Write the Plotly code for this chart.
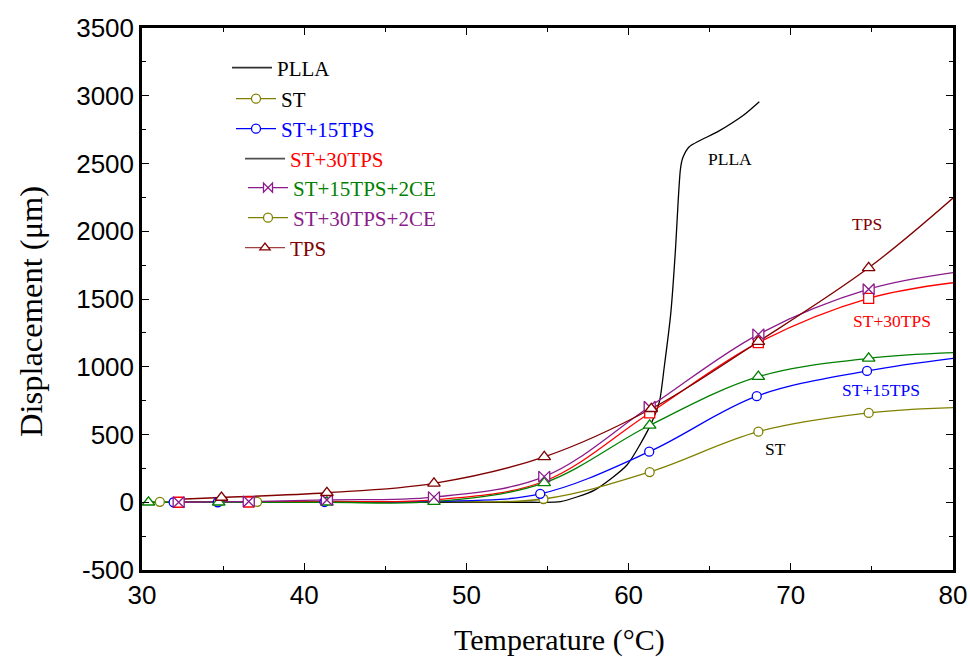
import plotly.graph_objects as go

# ---------------- data ----------------
# PLLA (no markers)
plla_temp = [30.4, 40.0, 50.0, 54.0, 55.8, 57.9, 59.9, 61.3, 61.9, 62.2, 62.6, 62.9,
             63.06, 63.19, 63.33, 63.74, 65.5, 67.1, 68.06]
plla_disp = [0, 0, 0, 0, 4, 90, 275, 558, 742, 1000, 1394, 1886,
             2231, 2452, 2538, 2624, 2735, 2858, 2956]

# ST
st_temp = [31.1, 37.1, 48.0, 54.75, 61.3, 68.0, 74.8, 80.0]
st_disp = [3, 3, 5, 24, 223, 521, 659, 698]
st_marks = [31.1, 37.1, 54.75, 61.3, 68.0, 74.8]

# ST+15TPS
st15_temp = [31.95, 34.67, 41.25, 48.0, 54.55, 61.27, 67.9, 74.7, 80.0]
st15_disp = [0, 0, 2, 6, 62, 373, 783, 969, 1062]
st15_marks = [31.95, 34.67, 41.25, 54.55, 61.27, 67.9, 74.7]

# ST+30TPS
st30_temp = [32.26, 36.58, 41.4, 48.0, 54.8, 61.3, 68.0, 74.8, 80.0]
st30_disp = [0, 2, 6, 17, 155, 659, 1178, 1505, 1620]
st30_marks = [32.26, 36.58, 61.3, 68.0, 74.8]

# bow-tie series
bow_temp = [32.26, 36.58, 41.4, 48.0, 54.8, 61.3, 68.0, 74.8, 80.0]
bow_disp = [0, 5, 17, 38, 189, 705, 1239, 1572, 1694]
bow_marks = [32.26, 36.58, 41.4, 48.0, 54.8, 61.3, 68.0, 74.8]

# triangle series (green)
tri_temp = [30.4, 34.73, 41.4, 48.0, 54.8, 61.3, 68.0, 74.8, 80.0]
tri_disp = [0, 0, 0, 4, 143, 568, 927, 1062, 1104]
tri_marks = [30.4, 34.73, 41.4, 48.0, 54.8, 61.3, 68.0, 74.8]

# TPS
tps_temp = [32.3, 34.9, 41.4, 48.0, 54.8, 61.4, 68.0, 74.8, 80.0]
tps_disp = [22, 35, 70, 140, 335, 690, 1185, 1730, 2245]
tps_marks = [34.9, 41.4, 48.0, 54.8, 61.4, 68.0, 74.8]

x_ticks = [30, 40, 50, 60, 70, 80]
x_tick_labels = ["30", "40", "50", "60", "70", "80"]
y_ticks = [-500, 0, 500, 1000, 1500, 2000, 2500, 3000, 3500]
y_tick_labels = ["-500", "0", "500", "1000", "1500", "2000", "2500", "3000", "3500"]

legend_names = ["PLLA", "ST", "ST+15TPS", "ST+30TPS", "ST+15TPS+2CE", "ST+30TPS+2CE", "TPS"]

# ---------------- styling ----------------
OLIVE = "#808000"
BLUE = "#0000FF"
RED = "#FF0000"
PURPLE = "#8B1A8B"
GREEN = "#008000"
DRED = "#800000"
SERIF = "Liberation Serif"
SANS = "Liberation Sans"

W, H = 970, 657
ML, MR, MT, MB = 142, 17, 28, 87
PW, PH = W - ML - MR, H - MT - MB


def fx(px):
    return (px - ML) / PW


def fy(py):
    return (H - MB - py) / PH


fig = go.Figure()

# PLLA curve
fig.add_trace(go.Scatter(x=plla_temp, y=plla_disp, mode="lines",
                         line=dict(color="black", width=1.3, shape="spline", smoothing=0.6),
                         showlegend=False, hoverinfo="skip"))

series = [
    (st_temp, st_disp, st_marks, OLIVE, "circle", 9),
    (st15_temp, st15_disp, st15_marks, BLUE, "circle", 9),
    (st30_temp, st30_disp, st30_marks, RED, "square", 10),
    (tri_temp, tri_disp, tri_marks, GREEN, "triangle-up", 11),
    (bow_temp, bow_disp, bow_marks, PURPLE, "bowtie", 11),
    (tps_temp, tps_disp, tps_marks, DRED, "triangle-up", 11),
]

for t, d, marks, col, sym, size in series:
    fig.add_trace(go.Scatter(x=t, y=d, mode="lines",
                             line=dict(color=col, width=1.3, shape="spline", smoothing=1.0),
                             showlegend=False, hoverinfo="skip"))
for t, d, marks, col, sym, size in series:
    mx = [v for v in t if v in marks]
    my = [d[i] for i, v in enumerate(t) if v in marks]
    fig.add_trace(go.Scatter(x=mx, y=my, mode="markers",
                             marker=dict(symbol=sym, size=size, color="white",
                                         line=dict(color=col, width=1.3)),
                             showlegend=False, hoverinfo="skip"))

# legend entries: (line colour, marker symbol, marker colour, text colour, centre y px, line start px)
legend_style = [
    ("#303030", None, None, "black", 68, 232),
    (OLIVE, "circle", OLIVE, "black", 99, 236),
    (BLUE, "circle", BLUE, BLUE, 129, 236),
    ("#505050", None, None, RED, 159, 245),
    (PURPLE, "bowtie", PURPLE, GREEN, 188, 248),
    (OLIVE, "circle", OLIVE, PURPLE, 218, 248),
    ("#A04040", "triangle-up", DRED, DRED, 248, 245),
]

layout_legends = {}
for i, (name, (lc, sym, mc, tc, ypx, xpx)) in enumerate(zip(legend_names, legend_style)):
    key = "legend" if i == 0 else f"legend{i + 1}"
    if sym:
        fig.add_trace(go.Scatter(x=[None], y=[None], mode="lines+markers", name=name,
                                 line=dict(color=lc, width=1.3),
                                 marker=dict(symbol=sym, size=9, color="white",
                                             line=dict(color=mc, width=1.3)),
                                 legend=key, showlegend=True))
    else:
        fig.add_trace(go.Scatter(x=[None], y=[None], mode="lines", name=name,
                                 line=dict(color=lc, width=1.6),
                                 legend=key, showlegend=True))
    layout_legends[key] = dict(x=fx(xpx - 5), y=fy(ypx), xanchor="left", yanchor="middle",
                               bgcolor="rgba(0,0,0,0)", borderwidth=0, itemwidth=40,
                               font=dict(family=SERIF, size=21, color=tc),
                               itemclick=False, itemdoubleclick=False)

axis_common = dict(showline=True, linewidth=2.5, linecolor="black", mirror="ticks",
                   ticks="inside", ticklen=7, tickwidth=1.3, tickcolor="black",
                   showgrid=False, zeroline=False, automargin=False,
                   tickfont=dict(family=SANS, size=26, color="black"))

fig.update_layout(
    width=W, height=H,
    margin=dict(l=ML, r=MR, t=MT, b=MB, autoexpand=False),
    paper_bgcolor="white", plot_bgcolor="white",
    xaxis=dict(range=[30, 80], tickvals=x_ticks, ticktext=x_tick_labels,
               ticklabelstandoff=0,
               minor=dict(ticks="inside", ticklen=4, tickwidth=1.3, tickcolor="black", dtick=5, tick0=30),
               **axis_common),
    yaxis=dict(range=[-500, 3500], tickvals=y_ticks, ticktext=y_tick_labels,
               minor=dict(ticks="inside", ticklen=4, tickwidth=1.3, tickcolor="black", dtick=250, tick0=0),
               **axis_common),
    **layout_legends,
)

annotations = [
    ("PLLA", 730, 158.5, "black"),
    ("TPS", 867, 224, DRED),
    ("ST+30TPS", 892, 321, RED),
    ("ST+15TPS", 881, 390, BLUE),
    ("ST", 775, 449, "black"),
]
for txt, xp, yp, col in annotations:
    fig.add_annotation(text=txt, x=fx(xp), y=fy(yp), xref="paper", yref="paper",
                       showarrow=False, xanchor="center", yanchor="middle",
                       font=dict(family=SERIF, size=17.5, color=col))

fig.add_annotation(text="Temperature (°C)", x=fx(559), y=fy(640), xref="paper", yref="paper",
                   showarrow=False, xanchor="center", yanchor="middle",
                   font=dict(family=SERIF, size=30, color="black"))
fig.add_annotation(text="Displacement (μm)", x=fx(31), y=fy(312), xref="paper", yref="paper",
                   showarrow=False, xanchor="center", yanchor="middle", textangle=-90,
                   font=dict(family=SERIF, size=32.5, color="black"))

fig.write_html("out.html")
